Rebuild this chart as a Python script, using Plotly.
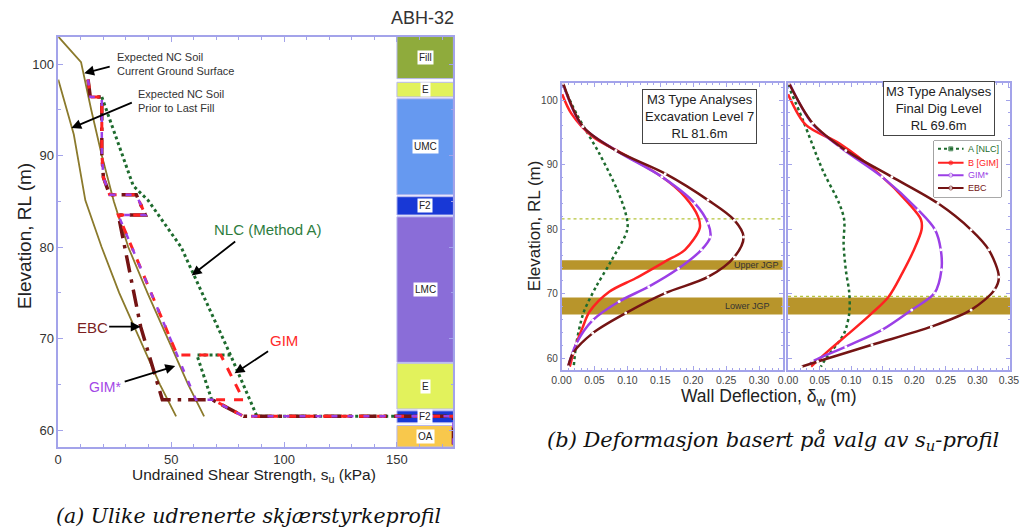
import plotly.graph_objects as go

W, H = 1030, 529

# the page viewer shifts/squeezes the figure horizontally by a few pixels;
# layout positions are expressed in target pixels and mapped back here
SHIFT_X, SCALE_X = 7.94, 1030 / 1038


def px(x):
    return ((x - SHIFT_X) / SCALE_X) / W


def py(y):
    return 1 - y / H


SANS = "Liberation Sans, Arial, sans-serif"
AXIS_C = "#a3a3ea"

# ---------------- (a) undrained shear strength profiles ----------------
nc_now_su = [0.0, 10.1, 14.6, 19.3, 24.6, 31.0, 39.5, 48.5, 57.5, 64.6]
nc_now_rl = [103.0, 100.2, 95.0, 90.0, 85.0, 80.0, 75.0, 70.0, 65.0, 61.5]
nc_prior_su = [0.0, 6.9, 12.0, 19.2, 27.0, 36.0, 45.0, 52.2]
nc_prior_rl = [98.3, 92.3, 85.1, 80.0, 75.0, 70.0, 65.0, 61.5]

step_su = [13.2, 14.2, 19.3, 19.3, 20.0, 22.8, 34.6, 38.6, 26.6]
step_rl = [98.3, 96.4, 96.4, 90.2, 87.6, 85.7, 85.7, 83.5, 83.5]

ebc_su = step_su + [36.5, 46.1, 68.3, 82.1, 175.0, 175.0]
ebc_rl = step_rl + [71.3, 63.3, 63.3, 61.5, 61.5, 58.15]
gims_su = step_su + [61.0, 68.3, 82.1, 175.0, 175.0]
gims_rl = step_rl + [63.3, 63.3, 61.5, 61.5, 58.15]
gim_su = step_su + [52.7, 72.0, 82.0, 68.6, 82.1, 175.0]
gim_rl = step_rl + [68.2, 68.2, 63.3, 63.3, 61.5, 61.5]
nlc_su = [19.3, 33.2, 39.8, 54.4, 76.3, 88.0, 175.0, None, 76.3, 61.4, 68.0]
nlc_rl = [96.4, 86.7, 85.1, 80.0, 68.2, 61.5, 61.5, None, 68.2, 68.2, 63.3]

# borehole ABH-32 stratigraphy
layer_names = ["Fill", "E", "UMC", "F2", "LMC", "E", "F2", "OA"]
layer_top = [103.0, 98.0, 96.2, 85.5, 83.3, 67.3, 62.1, 60.5]
layer_bot = [98.4, 96.4, 85.7, 83.5, 67.4, 62.3, 60.8, 58.15]
layer_col = ["#8fab3c", "#e2f25c", "#6699f0", "#1838d6",
             "#8a6dd8", "#e2f25c", "#1838d6", "#f8c84c"]

# ---------------- (b) wall deflection profiles ----------------
# Excavation level 7 (RL 81.6 m)
p1_nlc_d = [0.001, 0.0225, 0.0575, 0.085, 0.0975, 0.100, 0.075, 0.0525, 0.035, 0.030, 0.0225, 0.0185]
p1_nlc_rl = [102.6, 97.9, 91.7, 86.0, 82.4, 80.0, 75.0, 71.1, 67.5, 65.9, 62.3, 58.7]
p1_gim_d = [0.001, 0.015, 0.0475, 0.0925, 0.1525, 0.1875, 0.2075, 0.210, 0.1875, 0.1575, 0.1125, 0.0725, 0.0425, 0.0325, 0.0225, 0.0125]
p1_gim_rl = [100.9, 97.9, 94.3, 91.7, 88.1, 85.0, 81.9, 80.2, 76.8, 75.0, 72.4, 70.3, 67.2, 64.9, 62.3, 58.7]
p1_gims_d = [0.002, 0.032, 0.0825, 0.1525, 0.2025, 0.2225, 0.226, 0.2125, 0.1775, 0.1325, 0.0875, 0.0475, 0.0225, 0.010]
p1_gims_rl = [102.6, 95.9, 92.2, 88.1, 84.0, 80.9, 78.8, 76.8, 73.9, 71.1, 68.8, 65.9, 62.3, 58.7]
p1_ebc_d = [0.0025, 0.0325, 0.0825, 0.1575, 0.2225, 0.2625, 0.2765, 0.2625, 0.2225, 0.1575, 0.0975, 0.0475, 0.0175, 0.010]
p1_ebc_rl = [102.6, 95.9, 92.2, 88.6, 84.5, 81.4, 78.8, 75.7, 72.6, 70.1, 67.0, 63.9, 60.8, 58.7]

# Final dig level (RL 69.6 m)
p2_nlc_d = [0.0, 0.0235, 0.055, 0.081, 0.089, 0.088, 0.0915, 0.097, 0.097, 0.089, 0.0705, 0.060, 0.052]
p2_nlc_rl = [102.3, 96.9, 89.1, 84.0, 81.4, 77.8, 73.7, 70.1, 67.0, 63.9, 61.3, 60.0, 58.7]
p2_gim_d = [0.0, 0.0287, 0.081, 0.1437, 0.191, 0.2105, 0.2115, 0.198, 0.181, 0.159, 0.133, 0.097, 0.0655, 0.0365]
p2_gim_rl = [100.9, 96.1, 93.3, 88.6, 84.0, 81.5, 79.9, 76.5, 73.2, 69.5, 67.0, 63.9, 61.3, 58.7]
p2_gims_d = [0.002, 0.038, 0.081, 0.149, 0.206, 0.233, 0.242, 0.243, 0.232, 0.196, 0.149, 0.0915, 0.039, 0.034]
p2_gims_rl = [102.6, 96.4, 92.8, 88.1, 83.0, 79.9, 76.8, 73.7, 70.1, 67.5, 64.4, 61.8, 59.5, 59.0]
p2_ebc_d = [0.0015, 0.039, 0.0915, 0.1645, 0.2375, 0.290, 0.318, 0.334, 0.327, 0.290, 0.227, 0.133, 0.047, 0.021]
p2_ebc_rl = [102.6, 96.4, 92.2, 88.1, 84.0, 79.9, 76.8, 72.6, 70.6, 67.5, 64.9, 62.1, 59.5, 58.7]

# jet-grout slabs and excavation levels
upper_jgp = (73.7, 75.2)
lower_jgp = (66.8, 69.4)
exc_level_7 = 81.6
final_dig = 69.6

C_NLC = "#1e6b2e"
C_GIM = "#ff2222"
C_GIMS = "#9b3fe6"
C_EBC = "#741414"
C_NC = "#8b7a2c"
JGP_C = "#b8952b"

fig = go.Figure()

# ---- panel (a) traces ----
fig.add_trace(go.Scatter(x=nc_now_su, y=nc_now_rl, mode="lines", line=dict(color=C_NC, width=1.8), xaxis="x", yaxis="y"))
fig.add_trace(go.Scatter(x=nc_prior_su, y=nc_prior_rl, mode="lines", line=dict(color=C_NC, width=1.8), xaxis="x", yaxis="y"))
fig.add_trace(go.Scatter(x=nlc_su, y=nlc_rl, mode="lines", line=dict(color=C_NLC, width=3, dash="dot"), connectgaps=False, xaxis="x", yaxis="y"))
fig.add_trace(go.Scatter(x=ebc_su, y=ebc_rl, mode="lines", line=dict(color=C_EBC, width=3.5, dash="longdashdot"), xaxis="x", yaxis="y"))
fig.add_trace(go.Scatter(x=gim_su, y=gim_rl, mode="lines", line=dict(color=C_GIM, width=3, dash="dash"), xaxis="x", yaxis="y"))
fig.add_trace(go.Scatter(x=gims_su, y=gims_rl, mode="lines", line=dict(color=C_GIMS, width=2.5, dash="6px,10px"), xaxis="x", yaxis="y"))

# ---- panel (b) traces ----
dots = dict(symbol="circle", size=3, color="white", line=dict(width=0))
for xa, ya, sets in [
    ("x2", "y2", [(p1_nlc_d, p1_nlc_rl), (p1_gim_d, p1_gim_rl), (p1_gims_d, p1_gims_rl), (p1_ebc_d, p1_ebc_rl)]),
    ("x3", "y3", [(p2_nlc_d, p2_nlc_rl), (p2_gim_d, p2_gim_rl), (p2_gims_d, p2_gims_rl), (p2_ebc_d, p2_ebc_rl)]),
]:
    (nd, nr), (gd, gr), (sd, sr), (ed, er) = sets
    fig.add_trace(go.Scatter(x=nd, y=nr, mode="lines", line=dict(color=C_NLC, width=2.5, dash="dot", shape="spline", smoothing=0.9), xaxis=xa, yaxis=ya))
    fig.add_trace(go.Scatter(x=gd, y=gr, mode="lines", line=dict(color=C_GIM, width=2.5, shape="spline", smoothing=0.9), xaxis=xa, yaxis=ya))
    fig.add_trace(go.Scatter(x=sd, y=sr, mode="lines+markers", line=dict(color=C_GIMS, width=2.5, shape="spline", smoothing=0.9),
                             marker=dots, xaxis=xa, yaxis=ya))
    fig.add_trace(go.Scatter(x=ed, y=er, mode="lines+markers", line=dict(color=C_EBC, width=2.5, shape="spline", smoothing=0.9),
                             marker=dots, xaxis=xa, yaxis=ya))

# ---- hand-made legend in panel 2 ----
leg_items = [("A [NLC]", C_NLC, "dot", "square", C_NLC),
             ("B [GIM]", C_GIM, "solid", "circle", C_GIM),
             ("GIM*", C_GIMS, "solid", "circle", "white"),
             ("EBC", C_EBC, "solid", "circle", "white")]
leg_rows = [0.86, 0.61, 0.39, 0.16]
for (name, col, dash, sym, mfill), yy in zip(leg_items, leg_rows):
    fig.add_trace(go.Scatter(x=[0.06, 0.25, 0.44], y=[yy, yy, yy], mode="lines+markers",
                             line=dict(color=col, width=2, dash=dash),
                             marker=dict(size=[0, 4, 0], symbol=sym, color=mfill, line=dict(color=col, width=1)),
                             xaxis="x4", yaxis="y4"))

fig.update_traces(showlegend=False, hoverinfo="skip")

shapes = []
annotations = []


def note(x, y, text, size, color="#222", xa="center", ya="middle", family=SANS, **kw):
    annotations.append(dict(xref="paper", yref="paper", x=px(x), y=py(y), text=text, showarrow=False,
                            xanchor=xa, yanchor=ya, font=dict(family=family, size=size, color=color), **kw))


# stratigraphic column
for name, t, b, c in zip(layer_names, layer_top, layer_bot, layer_col):
    shapes.append(dict(type="rect", xref="x", yref="y", x0=150, x1=175, y0=b, y1=t,
                       fillcolor=c, line=dict(color="#b8b8f0", width=1), layer="below"))
    annotations.append(dict(xref="x", yref="y", x=162.5, y=(t + b) / 2, text=name, showarrow=False,
                            xanchor="center", yanchor="middle",
                            font=dict(family=SANS, size=10, color="#222"), bgcolor="white", borderpad=1))

# jet-grout bands and excavation levels
for t0, t1 in [upper_jgp, lower_jgp]:
    shapes.append(dict(type="rect", xref="x2 domain", yref="y2", x0=0, x1=1, y0=t0, y1=t1,
                       fillcolor=JGP_C, line=dict(width=0), layer="below"))
shapes.append(dict(type="rect", xref="x3 domain", yref="y3", x0=0, x1=1, y0=lower_jgp[0], y1=lower_jgp[1],
                   fillcolor=JGP_C, line=dict(width=0), layer="below"))
shapes.append(dict(type="line", xref="x2 domain", yref="y2", x0=0, x1=1, y0=exc_level_7, y1=exc_level_7,
                   line=dict(color="#b5c43a", width=1.3, dash="dot"), layer="below"))
shapes.append(dict(type="line", xref="x3 domain", yref="y3", x0=0, x1=1, y0=final_dig, y1=final_dig,
                   line=dict(color="#b5c43a", width=1.3, dash="dot"), layer="below"))

# legend frame
shapes.append(dict(type="rect", xref="paper", yref="paper", x0=px(942), x1=px(1010), y0=py(197), y1=py(141),
                   fillcolor="white", line=dict(color="#555", width=1), layer="below"))
for (name, col, *_), yy in zip(leg_items, leg_rows):
    annotations.append(dict(xref="x4", yref="y4", x=0.48, y=yy, xanchor="left", yanchor="middle",
                            text=name, showarrow=False, font=dict(family=SANS, size=9, color=col)))

# panel text boxes
note(704.5, 116.5, "M3 Type Analyses<br>Excavation Level 7<br>RL 81.6m", 13,
     bgcolor="white", bordercolor="#444", borderwidth=1, borderpad=2)
note(947.5, 109, "M3 Type Analyses<br>Final Dig Level<br>RL 69.6m", 13,
     bgcolor="white", bordercolor="#444", borderwidth=1, borderpad=2)
note(787, 265, "Upper JGP", 9, "#333", xa="right")
note(778, 306, "Lower JGP", 9, "#333", xa="right")

# panel (a) labels
note(114, 64, "Expected NC Soil<br>Current Ground Surface", 11, "#333", xa="left", align="left")
note(135, 101, "Expected NC Soil<br>Prior to Last Fill", 11, "#333", xa="left", align="left")
note(212, 229, "NLC (Method A)", 15, "#2e7d3e", xa="left")
note(74, 327, "EBC", 15, "#7b1f1f", xa="left")
note(86, 387, "GIM*", 14, "#a347e6", xa="left")
note(269, 340, "GIM", 15, "#ff2a2a", xa="left")
note(425, 18, "ABH-32", 18, "#333")

# arrows pointing at the profiles (tip in data units, tail offset in px)
for tx, ty, ax, ay in [(11.5, 99.0, 27, -7), (5.8, 93.0, 62, -26), (59.1, 76.9, 45, -35),
                       (36.5, 71.3, -33, 0), (51.8, 67.0, -52, 16), (78.1, 66.2, 35, -23)]:
    annotations.append(dict(xref="x", yref="y", x=tx, y=ty, ax=ax, ay=ay, text="", showarrow=True,
                            arrowhead=2, arrowsize=1.1, arrowwidth=1.8, arrowcolor="black"))

# axis titles and captions
note(22, 236, "Elevation, RL (m)", 19, textangle=-90)
note(255, 475, "Undrained Shear Strength, s<sub>u</sub> (kPa)", 15.5)
note(538, 226, "Elevation, RL (m)", 17, textangle=-90)
note(775, 397, "Wall Deflection, δ<sub>w</sub> (m)", 17.5)
note(249, 516, "<i>(a) Ulike udrenerte skjærstyrkeprofil</i>", 20.5, "#111", family="DejaVu Serif")
note(779, 441, "<i>(b) Deformasjon basert på valg av s<sub>u</sub>-profil</i>", 21, "#111", family="DejaVu Serif")

common = dict(showline=True, linecolor=AXIS_C, linewidth=1.5, mirror="ticks", ticks="inside",
              tickcolor=AXIS_C, showgrid=False, zeroline=False)

fig.update_layout(
    width=W, height=H, autosize=False, margin=dict(l=0, r=0, t=0, b=0),
    paper_bgcolor="white", plot_bgcolor="white", showlegend=False,
    xaxis=dict(domain=[px(56.7), px(456.2)], range=[0, 175], anchor="y", tickvals=[0, 50, 100, 150],
               ticklen=5, minor=dict(dtick=10, ticks="inside", ticklen=3, tickcolor=AXIS_C),
               tickfont=dict(family=SANS, size=13, color="#333"), **common),
    yaxis=dict(domain=[py(447), py(37)], range=[58.15, 102.95], anchor="x", tickvals=[60, 70, 80, 90, 100],
               ticklen=5, minor=dict(dtick=5, ticks="inside", ticklen=3, tickcolor=AXIS_C),
               tickfont=dict(family=SANS, size=13, color="#333"), **common),
    xaxis2=dict(domain=[px(565.5), px(789)], range=[0, 0.3358], anchor="y2", dtick=0.05, tickformat=".2f",
                ticklen=4, minor=dict(dtick=0.01, ticks="inside", ticklen=2, tickcolor=AXIS_C),
                tickfont=dict(family=SANS, size=10.5, color="#444"), **common),
    yaxis2=dict(domain=[py(370), py(83.3)], range=[58.19, 102.59], anchor="x2", tickvals=[60, 70, 80, 90, 100],
                ticklen=4, minor=dict(dtick=2, ticks="inside", ticklen=2, tickcolor=AXIS_C),
                tickfont=dict(family=SANS, size=10, color="#444"), **common),
    xaxis3=dict(domain=[px(794.5), px(1019)], range=[0, 0.3518], anchor="y3", dtick=0.05, tickformat=".2f",
                ticklen=4, minor=dict(dtick=0.01, ticks="inside", ticklen=2, tickcolor=AXIS_C),
                tickfont=dict(family=SANS, size=10.5, color="#444"), **common),
    yaxis3=dict(domain=[py(370), py(83.3)], range=[58.19, 102.59], anchor="x3", tickvals=[60, 70, 80, 90, 100],
                showticklabels=False, ticklen=4, minor=dict(dtick=2, ticks="inside", ticklen=2, tickcolor=AXIS_C),
                **common),
    xaxis4=dict(domain=[px(942), px(1010)], range=[0, 1], anchor="y4", visible=False, fixedrange=True),
    yaxis4=dict(domain=[py(197), py(141)], range=[0, 1], anchor="x4", visible=False, fixedrange=True),
    shapes=shapes, annotations=annotations,
)

fig.write_html("out.html")
